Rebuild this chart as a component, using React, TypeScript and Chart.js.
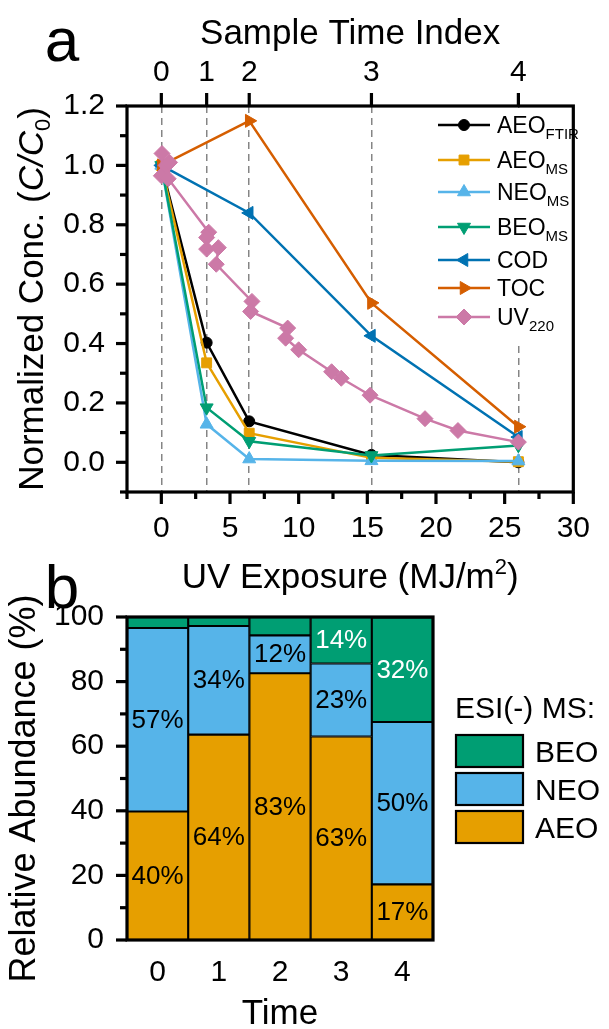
import React, { useEffect, useRef } from "react";
import { Chart, registerables } from "chart.js";
Chart.register(...registerables);

const FONT = "'Liberation Sans', Arial, Helvetica, sans-serif";

// ---------- Panel a data ----------
const exposureTicks = [0, 5, 10, 15, 20, 25, 30];
const exposureMinorTicks = [-2.5, 2.5, 7.5, 12.5, 17.5, 22.5, 27.5];
const concTicks = [0, 0.2, 0.4, 0.6, 0.8, 1.0, 1.2];
const concMinorTicks = [-0.1, 0.1, 0.3, 0.5, 0.7, 0.9, 1.1];
const sampleExposure = [0, 3.3, 6.4, 15.3, 26.0];
const sampleIndexLabels = ["0", "1", "2", "3", "4"];
const aeoFtir = [1.0, 0.403, 0.138, 0.025, 0.0];
const aeoMs = [1.0, 0.335, 0.098, 0.015, 0.002];
const neoMs = [1.0, 0.128, 0.011, 0.005, 0.004];
const beoMs = [1.0, 0.184, 0.071, 0.023, 0.057];
const codExposure = [0, 6.4, 15.3, 26.0];
const cod = [1.0, 0.84, 0.426, 0.085];
const tocExposure = [0, 6.4, 15.3, 26.0];
const toc = [1.0, 1.15, 0.537, 0.12];
const uvExposure = [0.05, 0.0, 0.35, 0.6, 0.5, 3.45, 3.3, 3.3, 4.15, 4.0, 6.6, 6.5, 9.2, 9.05, 10.0, 12.4, 13.1, 15.2, 19.2, 21.6, 26.0];
const uv220 = [1.04, 0.965, 1.0, 1.01, 0.955, 0.775, 0.757, 0.718, 0.723, 0.667, 0.542, 0.508, 0.452, 0.418, 0.379, 0.305, 0.283, 0.226, 0.147, 0.107, 0.068];

// ---------- Panel b data ----------
const timeLabels = ["0", "1", "2", "3", "4"];
const aeoShare = [39.8, 63.6, 82.6, 63.0, 17.2];
const neoShare = [56.8, 33.6, 11.7, 22.6, 50.3];
const beoShare = [3.4, 2.8, 5.7, 14.4, 32.4];
const abundanceTicks = [0, 20, 40, 60, 80, 100];
const abundanceMinorTicks = [10, 30, 50, 70, 90];

type Part = { t: string; size: number; italic?: boolean; dy?: number };

function setFont(ctx: CanvasRenderingContext2D, p: Part) {
  ctx.font = `${p.italic ? "italic " : ""}${p.size}px ${FONT}`;
}
function richWidth(ctx: CanvasRenderingContext2D, parts: Part[]) {
  let w = 0;
  for (const p of parts) {
    setFont(ctx, p);
    w += ctx.measureText(p.t).width;
  }
  return w;
}
function drawRich(ctx: CanvasRenderingContext2D, parts: Part[], x: number, y: number, align: "left" | "center") {
  const w = richWidth(ctx, parts);
  let cx = align === "center" ? x - w / 2 : x;
  ctx.textAlign = "left";
  ctx.textBaseline = "alphabetic";
  for (const p of parts) {
    setFont(ctx, p);
    ctx.fillText(p.t, cx, y + (p.dy || 0));
    cx += ctx.measureText(p.t).width;
  }
}

function drawMarker(ctx: CanvasRenderingContext2D, style: string, rot: number, r: number, x: number, y: number, color: string) {
  ctx.save();
  ctx.fillStyle = color;
  ctx.strokeStyle = color;
  ctx.lineWidth = 1;
  ctx.translate(x, y);
  ctx.rotate((rot * Math.PI) / 180);
  ctx.beginPath();
  if (style === "circle") ctx.arc(0, 0, r, 0, Math.PI * 2);
  else if (style === "rect") {
    const s = r * Math.SQRT1_2;
    ctx.rect(-s, -s, 2 * s, 2 * s);
  } else if (style === "rectRot") {
    ctx.moveTo(0, -r);
    ctx.lineTo(r, 0);
    ctx.lineTo(0, r);
    ctx.lineTo(-r, 0);
    ctx.closePath();
  } else {
    for (let k = 0; k < 3; k++) {
      const a = (k * 2 * Math.PI) / 3;
      const px = Math.sin(a) * r;
      const py = -Math.cos(a) * r;
      if (k === 0) ctx.moveTo(px, py);
      else ctx.lineTo(px, py);
    }
    ctx.closePath();
  }
  ctx.fill();
  ctx.stroke();
  ctx.restore();
}

const seriesA = [
  { name: [{ t: "AEO", size: 23 }, { t: "FTIR", size: 15, dy: 6 }], xs: sampleExposure, ys: aeoFtir, color: "#000000", style: "circle", rot: 0, r: 5.5, row: 125 },
  { name: [{ t: "AEO", size: 23 }, { t: "MS", size: 15, dy: 6 }], xs: sampleExposure, ys: aeoMs, color: "#E69F00", style: "rect", rot: 0, r: 7, row: 160 },
  { name: [{ t: "NEO", size: 23 }, { t: "MS", size: 15, dy: 6 }], xs: sampleExposure, ys: neoMs, color: "#56B4E9", style: "triangle", rot: 0, r: 7.5, row: 192 },
  { name: [{ t: "BEO", size: 23 }, { t: "MS", size: 15, dy: 6 }], xs: sampleExposure, ys: beoMs, color: "#009E73", style: "triangle", rot: 180, r: 7.5, row: 227 },
  { name: [{ t: "COD", size: 23 }], xs: codExposure, ys: cod, color: "#0072B2", style: "triangle", rot: -90, r: 7.5, row: 260 },
  { name: [{ t: "TOC", size: 23 }], xs: tocExposure, ys: toc, color: "#D55E00", style: "triangle", rot: 90, r: 7.5, row: 288 },
  { name: [{ t: "UV", size: 23 }, { t: "220", size: 15, dy: 6 }], xs: uvExposure, ys: uv220, color: "#CC79A7", style: "rectRot", rot: 0, r: 8, row: 317 },
];

const pluginA = {
  id: "panelA",
  beforeDatasetsDraw(chart: any) {
    const ctx = chart.ctx as CanvasRenderingContext2D;
    const ca = chart.chartArea;
    ctx.save();
    ctx.fillStyle = "#ffffff";
    ctx.fillRect(430, ca.top + 2, ca.right - 2 - 430, 342 - ca.top);
    ctx.restore();
  },
  afterDatasetsDraw(chart: any) {
    const ctx = chart.ctx as CanvasRenderingContext2D;
    const ca = chart.chartArea;
    const sx = chart.scales.x;
    const sy = chart.scales.y;
    ctx.save();
    // legend
    for (const s of seriesA) {
      ctx.strokeStyle = s.color;
      ctx.lineWidth = 2.5;
      ctx.beginPath();
      ctx.moveTo(438, s.row);
      ctx.lineTo(490, s.row);
      ctx.stroke();
      drawMarker(ctx, s.style, s.rot, s.r, 464, s.row, s.color);
      ctx.fillStyle = "#000";
      drawRich(ctx, s.name as Part[], 497, s.row + 8, "left");
    }
    // frame
    ctx.strokeStyle = "#000";
    ctx.lineWidth = 3.2;
    ctx.strokeRect(ca.left, ca.top, ca.right - ca.left, ca.bottom - ca.top);
    ctx.lineCap = "butt";
    const tick = (x1: number, y1: number, x2: number, y2: number) => {
      ctx.beginPath();
      ctx.moveTo(x1, y1);
      ctx.lineTo(x2, y2);
      ctx.stroke();
    };
    for (const v of concTicks) { const p = sy.getPixelForValue(v); tick(ca.left, p, ca.left - 11, p); }
    for (const v of concMinorTicks) { const p = sy.getPixelForValue(v); tick(ca.left, p, ca.left - 7, p); }
    for (const v of exposureTicks) { const p = sx.getPixelForValue(v); tick(p, ca.bottom, p, ca.bottom + 12); }
    for (const v of exposureMinorTicks) { const p = sx.getPixelForValue(v); tick(p, ca.bottom, p, ca.bottom + 7); }
    for (const v of sampleExposure) { const p = sx.getPixelForValue(v); tick(p, ca.top, p, ca.top - 13); }
    // titles
    ctx.fillStyle = "#000";
    drawRich(ctx, [{ t: "a", size: 62 }], 62, 61, "center");
    drawRich(ctx, [{ t: "Sample Time Index", size: 35 }], (ca.left + ca.right) / 2, 44, "center");
    drawRich(ctx, [{ t: "UV Exposure (MJ/m", size: 35 }, { t: "2", size: 22, dy: -14 }, { t: ")", size: 35 }], (ca.left + ca.right) / 2, 588, "center");
    ctx.translate(30, (ca.top + ca.bottom) / 2);
    ctx.rotate(-Math.PI / 2);
    drawRich(ctx, [{ t: "Normalized Conc. (", size: 35 }, { t: "C/C", size: 35, italic: true }, { t: "0", size: 22, dy: 7 }, { t: ")", size: 35 }], 0, 13, "center");
    ctx.restore();
  },
};

const pluginB = {
  id: "panelB",
  afterDatasetsDraw(chart: any) {
    const ctx = chart.ctx as CanvasRenderingContext2D;
    const ca = chart.chartArea;
    const sy = chart.scales.y;
    ctx.save();
    // data labels
    chart.data.datasets.forEach((ds: any, d: number) => {
      const meta = chart.getDatasetMeta(d);
      meta.data.forEach((el: any, i: number) => {
        const v = ds.data[i];
        if (v < 10) return;
        ctx.fillStyle = d === 2 ? "#ffffff" : "#000000";
        ctx.font = `26px ${FONT}`;
        ctx.textAlign = "center";
        ctx.textBaseline = "middle";
        ctx.fillText(`${Math.round(v)}%`, el.x, (el.y + el.base) / 2 + 1);
      });
    });
    // frame
    ctx.strokeStyle = "#000";
    ctx.lineWidth = 3.2;
    ctx.strokeRect(ca.left, ca.top, ca.right - ca.left, ca.bottom - ca.top);
    const tick = (x1: number, y1: number, x2: number, y2: number) => {
      ctx.beginPath();
      ctx.moveTo(x1, y1);
      ctx.lineTo(x2, y2);
      ctx.stroke();
    };
    for (const v of abundanceTicks) { const p = sy.getPixelForValue(v); tick(ca.left, p, ca.left - 11, p); }
    for (const v of abundanceMinorTicks) { const p = sy.getPixelForValue(v); tick(ca.left, p, ca.left - 7, p); }
    // titles
    ctx.fillStyle = "#000";
    drawRich(ctx, [{ t: "b", size: 62 }], 62, 48, "center");
    drawRich(ctx, [{ t: "Time", size: 35 }], (ca.left + ca.right) / 2, 464, "center");
    // legend
    drawRich(ctx, [{ t: "ESI(-) MS:", size: 30 }], 455, 158, "left");
    const items = [
      { n: "BEO", c: "#009E73", y: 175 },
      { n: "NEO", c: "#56B4E9", y: 213 },
      { n: "AEO", c: "#E69F00", y: 251 },
    ];
    for (const it of items) {
      ctx.fillStyle = it.c;
      ctx.fillRect(456, it.y, 67, 32);
      ctx.strokeStyle = "#000";
      ctx.lineWidth = 2.2;
      ctx.strokeRect(456, it.y, 67, 32);
      ctx.fillStyle = "#000";
      drawRich(ctx, [{ t: it.n, size: 30 }], 535, it.y + 27, "left");
    }
    ctx.save();
    ctx.translate(22, (ca.top + ca.bottom) / 2 + 10);
    ctx.rotate(-Math.PI / 2);
    ctx.fillStyle = "#000";
    drawRich(ctx, [{ t: "Relative Abundance (%)", size: 36 }], 0, 13, "center");
    ctx.restore();
    ctx.restore();
  },
};

export default function App() {
  const refA = useRef<HTMLCanvasElement>(null);
  const refB = useRef<HTMLCanvasElement>(null);

  useEffect(() => {
    const tickFont = { size: 30, family: FONT };
    const chartA = new Chart(refA.current as HTMLCanvasElement, {
      type: "line",
      data: {
        datasets: seriesA.map((s, i) => ({
          label: s.name.map((p) => p.t).join(""),
          data: s.xs.map((x, j) => ({ x, y: s.ys[j] })),
          borderColor: s.color,
          backgroundColor: s.color,
          borderWidth: 2.5,
          pointStyle: s.style as any,
          pointRotation: s.rot,
          pointRadius: s.r,
          pointBorderWidth: 1,
          tension: 0,
          order: seriesA.length - i,
          xAxisID: "x",
          yAxisID: "y",
        })),
      },
      options: {
        animation: false,
        responsive: false,
        maintainAspectRatio: false,
        devicePixelRatio: 1,
        layout: { padding: { left: 0, right: 21, top: 0, bottom: 0 } },
        plugins: { legend: { display: false }, tooltip: { enabled: false } },
        scales: {
          x: {
            type: "linear",
            position: "bottom",
            min: -2.5,
            max: 30,
            afterBuildTicks: (s: any) => { s.ticks = exposureTicks.map((v) => ({ value: v })); },
            afterFit: (s: any) => { s.height = 108; },
            grid: { display: false, drawTicks: false },
            border: { display: false },
            ticks: { font: tickFont, color: "#000", padding: 19, maxRotation: 0, autoSkip: false, callback: (v: any) => String(v) },
          },
          x2: {
            type: "linear",
            position: "top",
            min: -2.5,
            max: 30,
            afterBuildTicks: (s: any) => { s.ticks = sampleExposure.map((v) => ({ value: v })); },
            afterFit: (s: any) => { s.height = 106; },
            grid: { display: true, drawOnChartArea: true, drawTicks: false, color: "#858585", lineWidth: 1.5 },
            border: { display: false, dash: [7, 5] },
            ticks: { font: tickFont, color: "#000", padding: 15, maxRotation: 0, autoSkip: false, callback: (_v: any, i: number) => sampleIndexLabels[i] },
          },
          y: {
            type: "linear",
            min: -0.1,
            max: 1.2,
            afterBuildTicks: (s: any) => { s.ticks = concTicks.map((v) => ({ value: v })); },
            afterFit: (s: any) => { s.width = 127; },
            grid: { display: false, drawTicks: false },
            border: { display: false },
            ticks: { font: tickFont, color: "#000", padding: 22, callback: (v: any) => Number(v).toFixed(1) },
          },
        },
      },
      plugins: [pluginA],
    } as any);

    const chartB = new Chart(refB.current as HTMLCanvasElement, {
      type: "bar",
      data: {
        labels: timeLabels,
        datasets: [
          { label: "AEO", data: aeoShare, backgroundColor: "#E69F00" },
          { label: "NEO", data: neoShare, backgroundColor: "#56B4E9" },
          { label: "BEO", data: beoShare, backgroundColor: "#009E73" },
        ].map((d) => ({
          ...d,
          borderColor: "#000",
          borderWidth: 1.4,
          borderSkipped: false,
          barPercentage: 1,
          categoryPercentage: 1,
        })),
      },
      options: {
        animation: false,
        responsive: false,
        maintainAspectRatio: false,
        devicePixelRatio: 1,
        layout: { padding: { left: 0, right: 176, top: 57, bottom: 0 } },
        plugins: { legend: { display: false }, tooltip: { enabled: false } },
        scales: {
          x: {
            stacked: true,
            afterFit: (s: any) => { s.height = 89; },
            grid: { display: false, drawTicks: false },
            border: { display: false },
            ticks: { font: tickFont, color: "#000", padding: 15, maxRotation: 0 },
          },
          y: {
            stacked: true,
            min: 0,
            max: 100,
            afterBuildTicks: (s: any) => { s.ticks = abundanceTicks.map((v) => ({ value: v })); },
            afterFit: (s: any) => { s.width = 127; },
            grid: { display: false, drawTicks: false },
            border: { display: false },
            ticks: { font: tickFont, color: "#000", padding: 23 },
          },
        },
      },
      plugins: [pluginB],
    } as any);

    return () => {
      chartA.destroy();
      chartB.destroy();
    };
  }, []);

  return (
    <div style={{ position: "absolute", left: 0, top: 0, width: 609, height: 1029, background: "#fff", overflow: "hidden" }}>
      <canvas ref={refA} width={609} height={600} style={{ position: "absolute", left: 0, top: 0 }} />
      <canvas ref={refB} width={609} height={469} style={{ position: "absolute", left: 0, top: 560 }} />
    </div>
  );
}
